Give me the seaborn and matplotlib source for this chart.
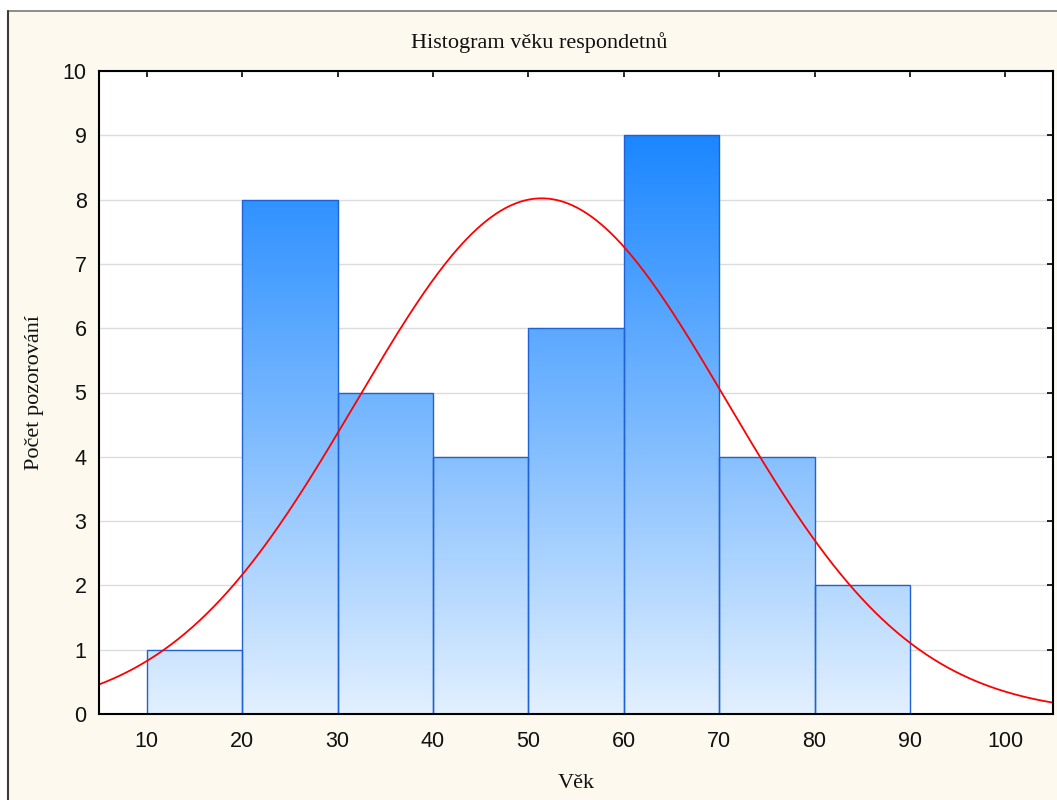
import numpy as np
import pandas as pd
import matplotlib
matplotlib.use("Agg")
import matplotlib.pyplot as plt
from matplotlib.colors import LinearSegmentedColormap
from matplotlib.lines import Line2D
import seaborn as sns

# ---- data ----
bin_edges = [10, 20, 30, 40, 50, 60, 70, 80, 90]
counts = [1, 8, 5, 4, 6, 9, 4, 2]
fit_mean = 51.4
fit_sd = 19.4
x_ticks = [10, 20, 30, 40, 50, 60, 70, 80, 90, 100]
y_ticks = [0, 1, 2, 3, 4, 5, 6, 7, 8, 9, 10]
title = "Histogram věku respondetnů"
xlabel = "Věk"
ylabel = "Počet pozorování"

sns.set_theme(style="white")
plt.rcParams['font.family'] = ['Liberation Sans', 'DejaVu Sans']

W, H = 1057, 800
fig = plt.figure(figsize=(W / 100, H / 100), dpi=100)
fig.patch.set_facecolor("white")

# cream background panel with border
bg = plt.Rectangle((8 / W, 0), 1.0, 1 - 11 / H, transform=fig.transFigure,
                   facecolor="#FEF9EE", edgecolor="none", zorder=-10)
fig.patches.append(bg)
fig.lines.append(Line2D([8 / W, 1], [1 - 11 / H, 1 - 11 / H], transform=fig.transFigure,
                        color="#7a7a7a", lw=1.2, zorder=-9))
fig.lines.append(Line2D([8 / W, 8 / W], [0, 1 - 11 / H], transform=fig.transFigure,
                        color="#3a3a3a", lw=1.5, zorder=-9))

ax = fig.add_axes([99 / W, 86 / H, (1053 - 99) / W, (714 - 71) / H])
ax.set_zorder(5)
ax.set_facecolor("white")

centers = [(a + b) / 2 for a, b in zip(bin_edges[:-1], bin_edges[1:])]
df = pd.DataFrame({"age": centers, "n": counts})
sns.histplot(data=df, x="age", weights="n", bins=bin_edges, ax=ax,
             stat="count", element="bars", fill=True, color="#7AB9FF",
             edgecolor="#1E62D6", linewidth=1.0, alpha=1.0, zorder=2)

ax.set_xlim(5, 105)
ax.set_ylim(0, 10)

# vertical gradient fill clipped to each bar
cmap = LinearSegmentedColormap.from_list("g", ["#E2F0FE", "#7AB9FF", "#1A86FF"])
grad = np.linspace(0, 1, 256).reshape(-1, 1)
for p in list(ax.patches):
    p.set_facecolor("none")
    im = ax.imshow(grad, extent=[5, 105, 0, 9.05], origin="lower", aspect="auto",
                   cmap=cmap, zorder=1.9, interpolation="bicubic")
    im.set_clip_path(p)
ax.set_xlim(5, 105)
ax.set_ylim(0, 10)

# fitted normal curve
N = sum(counts)
bw = bin_edges[1] - bin_edges[0]
xs = np.linspace(5, 105, 400)
ys = N * bw / (fit_sd * np.sqrt(2 * np.pi)) * np.exp(-0.5 * ((xs - fit_mean) / fit_sd) ** 2)
sns.lineplot(x=xs, y=ys, ax=ax, color="#FF0000", lw=1.3, zorder=3)

# grid & ticks
ax.set_yticks(y_ticks)
ax.set_xticks(x_ticks)
ax.yaxis.grid(True, color="#DCDCDC", lw=1.0, zorder=0)
ax.xaxis.grid(False)
ax.set_axisbelow(True)
ax.tick_params(direction="in", length=4, width=1.2, color="black",
               top=True, right=True, labeltop=False, labelright=False,
               labelsize=15.5, pad=9, labelcolor="#111111")
ax.tick_params(axis="x", pad=12)
for s in ax.spines.values():
    s.set_visible(True)
    s.set_color("black")
    s.set_linewidth(1.5)
    s.set_zorder(5)

ax.set_xlabel("")
ax.set_ylabel("")
serif = ['Liberation Serif', 'DejaVu Serif']
fig.text(539 / W, 1 - 43 / H, title, ha="center", va="center", fontsize=16,
         family=serif, color="#111111")
fig.text(576 / W, 1 - 784 / H, xlabel, ha="center", va="center", fontsize=16,
         family=serif, color="#111111")
fig.text(35 / W, 1 - 392 / H, ylabel, ha="center", va="center", fontsize=16,
         family=serif, rotation=90, color="#111111")

fig.savefig("out.png", dpi=100, facecolor=fig.get_facecolor())
